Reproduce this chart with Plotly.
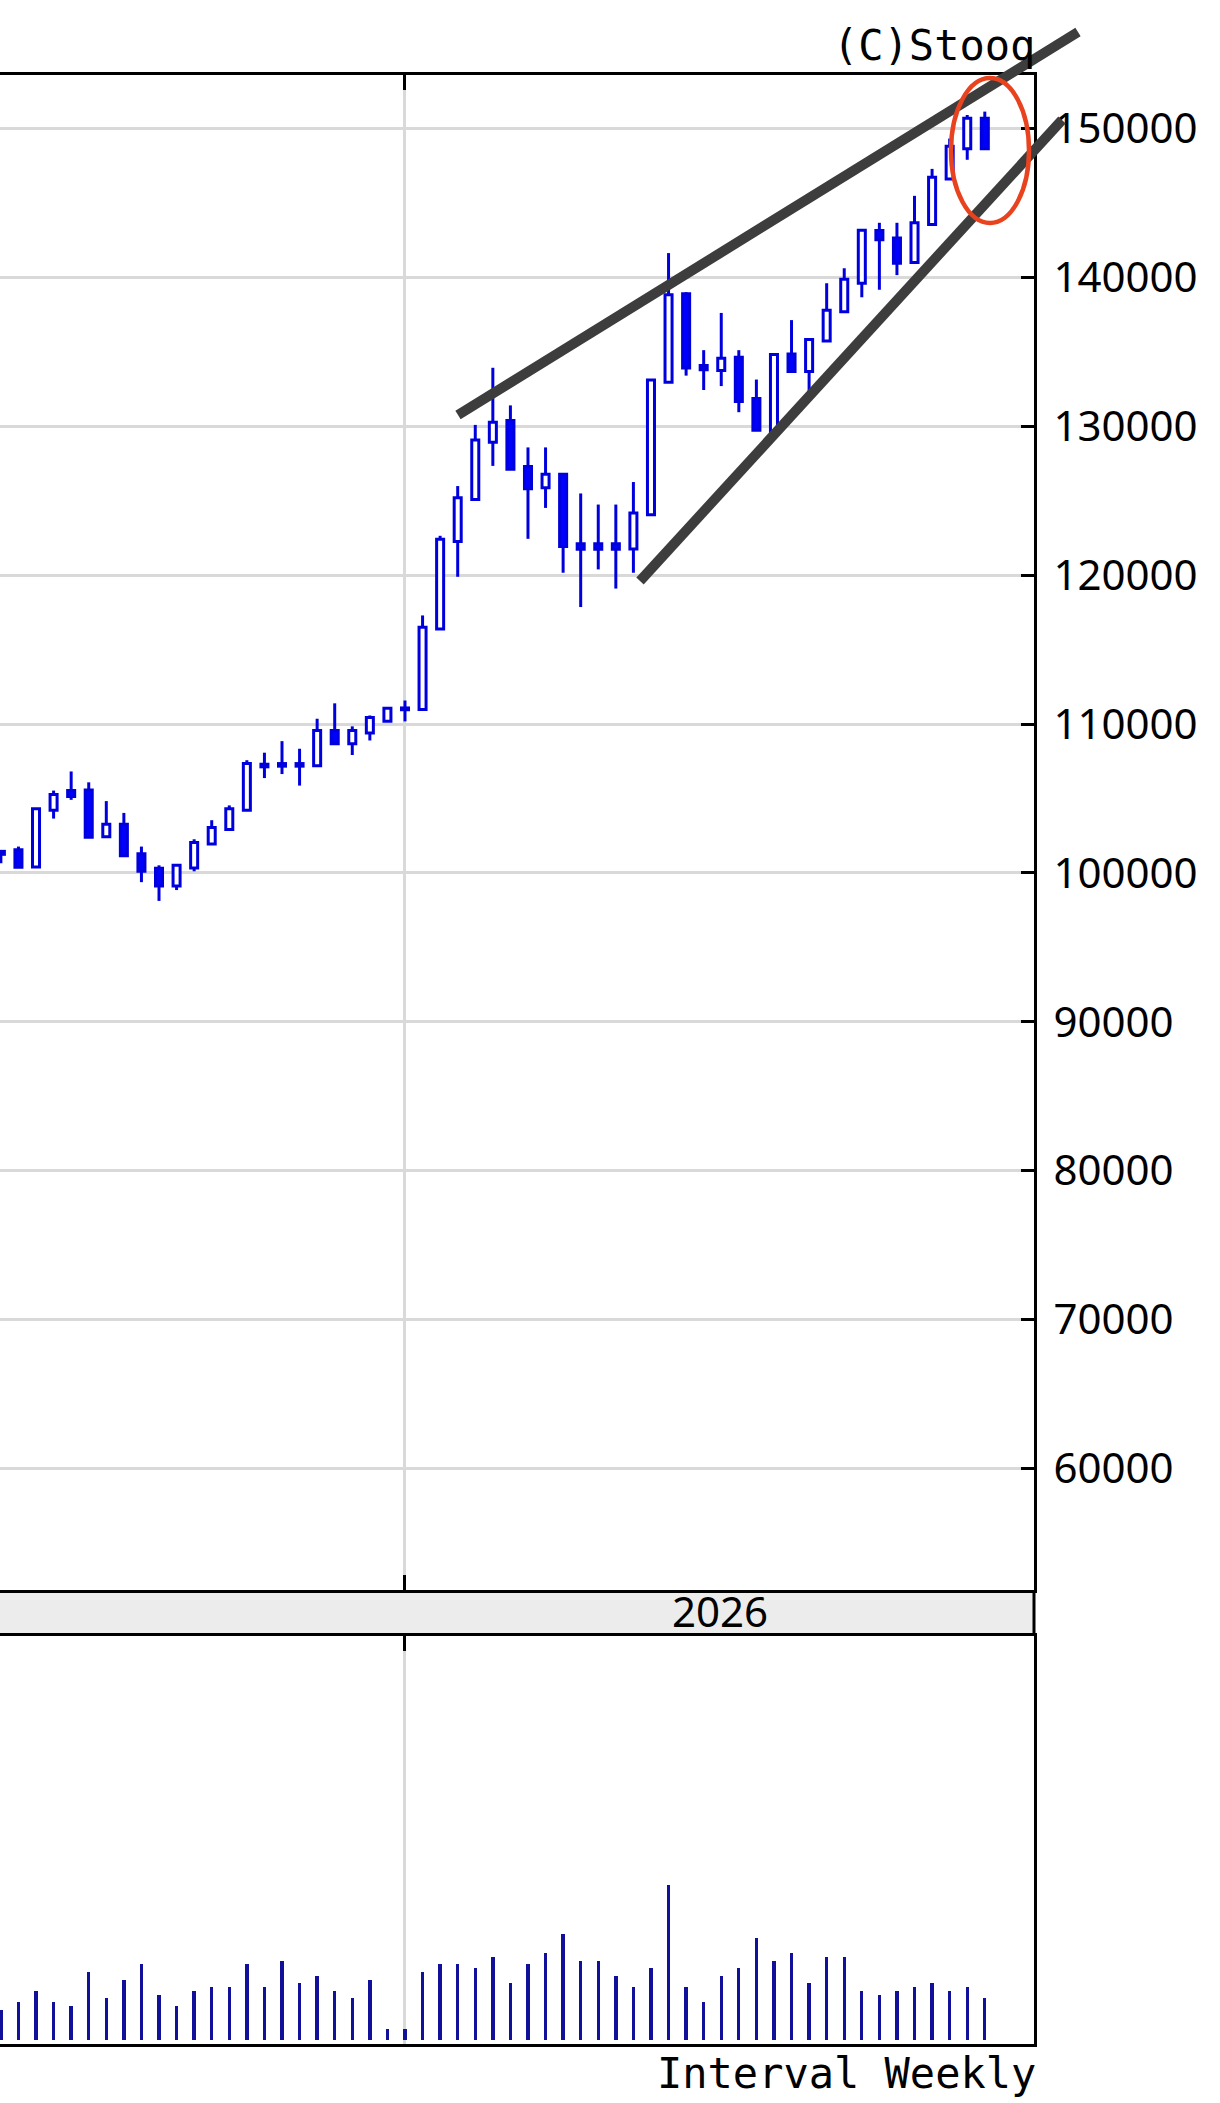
import plotly.graph_objects as go
import pandas as pd

# ---------------- data ----------------
dates = pd.date_range("2025-07-25", periods=57, freq="7D")

opens = [101450, 101550, 100400, 104205, 105530, 105575, 102435, 103275, 101285, 100310,
         99115, 100330, 101950, 102920, 104205, 107300, 107345, 107345, 107190, 109560,
         108670, 109400, 110180, 111080, 110974, 116390, 122258, 125080, 128917, 130384,
         127292, 125870, 126773, 122100, 122100, 122100, 121762, 124064, 132960, 138904,
         134079, 133750, 134627, 131864, 129627, 134846, 133684, 135724, 137697, 139605,
         143144, 142647, 140995, 143550, 146605, 148642, 150679]
highs = [101500, 101770, 104315, 105530, 106815, 106085, 104824, 104030, 101770, 100510,
         100510, 102260, 103540, 104535, 107570, 108075, 108850, 108340, 110355, 111390,
         109845, 110575, 111060, 111580, 117293, 122642, 125983, 130090, 133927, 131400,
         128578, 128578, 126773, 125486, 124741, 124741, 126253, 133137, 141629, 139000,
         135110, 137610, 135110, 133136, 134824, 137127, 135833, 139605, 140611, 143167,
         143664, 143664, 145474, 147284, 149320, 150905, 151131]
lows = [100650, 100380, 100400, 103650, 104910, 102390, 102435, 101150, 99380, 98120,
        98850, 100110, 101950, 102920, 104205, 106370, 106640, 105865, 107190, 108670,
        107920, 108895, 110180, 110180, 110974, 116390, 119890, 125080, 127337, 127111,
        122439, 124515, 120160, 117857, 120385, 119098, 120160, 124064, 132960, 133400,
        132434, 132697, 130943, 129737, 129627, 133684, 131710, 135724, 137697, 138662,
        139167, 140150, 140995, 143550, 146605, 147896, 148642]
closes = [101250, 100380, 104315, 105266, 105134, 102390, 103275, 101150, 100110, 99115,
          100510, 102035, 103055, 104315, 107345, 107125, 107170, 107170, 109560, 108670,
          109560, 110440, 111060, 110960, 116503, 122416, 125192, 129075, 130271, 127111,
          125802, 126773, 121920, 121740, 121740, 121740, 124177, 133100, 138838, 133904,
          133793, 134561, 131667, 129737, 134824, 133684, 135833, 137785, 139868, 143167,
          142533, 140950, 143664, 146718, 148800, 150679, 148642]
# weekly volume (thousands)
volumes = [30000, 37700, 49000, 37700, 33700, 68000, 41700, 60300, 75700, 45300,
           33700, 49000, 52700, 52700, 75700, 52700, 79300, 56700, 64000, 49000,
           41700, 60300, 11000, 11000, 68000, 75700, 75700, 71700, 83000, 56700,
           75700, 86700, 105700, 79300, 79300, 64000, 52700, 71700, 155000, 52700,
           37700, 64000, 71700, 102000, 79300, 86700, 56700, 83000, 83000, 49000,
           45300, 49000, 52700, 56700, 49000, 52700, 41700]
price_ticks = [60000, 70000, 80000, 90000, 100000, 110000, 120000, 130000, 140000, 150000]
year_label = "2026"
year_start_index = 23
source_text = "(C)Stooq"
interval_text = "Interval Weekly"

# ---------------- styling / geometry ----------------
W, H = 1220, 2103
ML, MR, MT, MB = 0, 186, 75, 59
PW = W - ML - MR
PH = H - MT - MB
def px_x(px):
    return (px - ML) / PW
def px_y(py):
    return (H - MB - py) / PH

BLUE_FILL = "#0000ff"
BLUE_LINE = "#0000dd"
VOL_COLOR = "#10109a"
GRID = "#d9d9d9"
WEEK_MS = 7 * 24 * 3600 * 1000

price_dom = [px_y(1590), 1.0]
vol_dom = [0.0, px_y(1636)]

x0 = dates[year_start_index] - pd.Timedelta(weeks=23.05)
x1 = dates[year_start_index] + pd.Timedelta(weeks=35.80)

fig = go.Figure()

# candle bodies
base = [min(o, c) for o, c in zip(opens, closes)]
height = [abs(c - o) for o, c in zip(opens, closes)]
fills = ["white" if c >= o else BLUE_FILL for o, c in zip(opens, closes)]
fig.add_trace(go.Bar(
    x=dates, y=height, base=base, width=0.40 * WEEK_MS,
    marker=dict(color=fills, line=dict(color=BLUE_LINE, width=3)),
    xaxis="x", yaxis="y", showlegend=False, hoverinfo="skip"))

# wicks (upper and lower segments so hollow bodies stay clean)
wx, wy = [], []
for d, o, h, l, c in zip(dates, opens, highs, lows, closes):
    top, bot = max(o, c), min(o, c)
    if h > top:
        wx += [d, d, None]
        wy += [top, h, None]
    if l < bot:
        wx += [d, d, None]
        wy += [l, bot, None]
fig.add_trace(go.Scatter(x=wx, y=wy, mode="lines",
                         line=dict(color=BLUE_LINE, width=3),
                         xaxis="x", yaxis="y", showlegend=False, hoverinfo="skip"))

# volume
fig.add_trace(go.Bar(x=dates, y=volumes, width=0.19 * WEEK_MS,
                     marker=dict(color=VOL_COLOR, line=dict(width=0)),
                     xaxis="x2", yaxis="y2", showlegend=False, hoverinfo="skip"))

tick_date = dates[year_start_index]
axis_common = dict(type="date", range=[x0, x1], tickvals=[tick_date],
                   showticklabels=False, ticks="inside", ticklen=15, tickwidth=3,
                   tickcolor="black", showgrid=True, gridcolor=GRID, gridwidth=3,
                   showline=True, linecolor="black", linewidth=3, zeroline=False,
                   fixedrange=True, automargin=False)

fig.update_layout(
    width=W, height=H,
    margin=dict(l=ML, r=MR, t=MT, b=MB, autoexpand=False),
    paper_bgcolor="white", plot_bgcolor="white",
    showlegend=False, bargap=0,
    xaxis=dict(domain=[0, 1], anchor="y", mirror="ticks", **axis_common),
    xaxis2=dict(domain=[0, 1], anchor="y2", side="top", mirror=True,
                matches="x", **axis_common),
    yaxis=dict(domain=price_dom, range=[51840, 153590], side="right",
               tickvals=price_ticks, ticktext=[str(v) for v in price_ticks],
               ticks="inside", ticklen=13, tickwidth=3, tickcolor="black",
               showgrid=True, gridcolor=GRID, gridwidth=3,
               showline=True, linecolor="black", linewidth=3, zeroline=False,
               ticklabelstandoff=8, automargin=False, fixedrange=True,
               tickfont=dict(family="Noto Sans", size=42, color="black")),
    yaxis2=dict(domain=vol_dom, range=[-4000, 404000], side="right",
                showticklabels=False, ticks="", showgrid=False, zeroline=False,
                showline=True, linecolor="black", linewidth=3, automargin=False,
                fixedrange=True),
)

# band between panels
fig.add_shape(type="rect", xref="paper", yref="paper", x0=0, x1=1,
              y0=vol_dom[1], y1=price_dom[0], fillcolor="#ececec",
              line=dict(width=0), layer="below")
fig.add_shape(type="line", xref="paper", yref="paper", x0=1, x1=1,
              y0=vol_dom[1], y1=price_dom[0], line=dict(color="black", width=3))

mid_date = tick_date + (x1 - tick_date) / 2
fig.add_annotation(text=year_label, xref="x", yref="paper", x=mid_date,
                   y=px_y(1610), showarrow=False,
                   xanchor="center", yanchor="middle",
                   font=dict(family="Noto Sans", size=42, color="black"))

fig.add_annotation(text=source_text, xref="paper", yref="paper", x=px_x(1037),
                   y=px_y(72), xanchor="right", yanchor="bottom", showarrow=False,
                   font=dict(family="DejaVu Sans Mono", size=42, color="black"))
fig.add_annotation(text=interval_text, xref="paper", yref="paper", x=px_x(1038),
                   y=px_y(2100), xanchor="right", yanchor="bottom", showarrow=False,
                   font=dict(family="DejaVu Sans Mono", size=42, color="black"))

# hand-drawn trend lines and highlight ellipse (overlay drawings, pixel placed)
TREND = "#3d3d3d"
fig.add_shape(type="line", xref="paper", yref="paper",
              x0=px_x(458), y0=px_y(415), x1=px_x(1078), y1=px_y(32),
              line=dict(color=TREND, width=10))
fig.add_shape(type="line", xref="paper", yref="paper",
              x0=px_x(640), y0=px_y(581), x1=px_x(1062), y1=px_y(120),
              line=dict(color=TREND, width=10))
fig.add_shape(type="circle", xref="paper", yref="paper",
              x0=px_x(951), x1=px_x(1029), y0=px_y(223), y1=px_y(78),
              line=dict(color="#e8431e", width=4.5))

fig.write_html("out.html", config={"displayModeBar": False, "staticPlot": True},
               post_script="document.body.style.margin='0px';")
